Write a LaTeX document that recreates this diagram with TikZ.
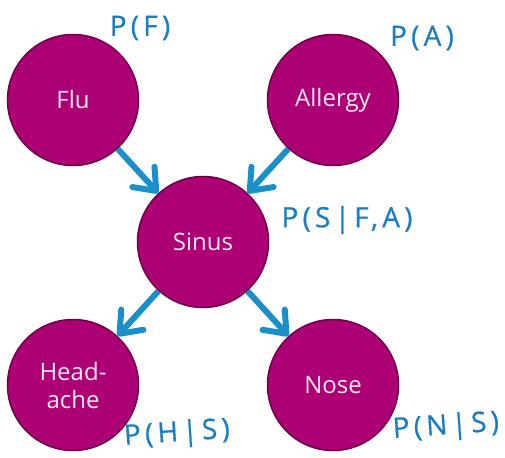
\documentclass[tikz,border=0pt]{standalone}
\usepackage{fontspec}
\setmainfont{Open Sans}
\newfontfamily\handfont{Open Sans}[LetterSpace=15,FakeBold=0.6]
\usetikzlibrary{arrows.meta}
\definecolor{nodefill}{HTML}{AD0075}
\definecolor{nodeedge}{HTML}{6E0047}
\definecolor{nodetext}{HTML}{F8E8F2}
\definecolor{arrowblue}{HTML}{1A8FC9}
\definecolor{inkblue}{HTML}{1B7EC2}
\begin{document}
\begin{tikzpicture}[x=1pt,y=-1pt,
  var/.style={circle,fill=nodefill,draw=nodeedge,line width=1.5pt,
    minimum size=131pt,inner sep=0pt,text=nodetext,
    font=\fontsize{24}{28}\selectfont,align=center},
  edge/.style={draw=arrowblue,line width=6pt,
    -{Straight Barb[length=19pt,width=30pt,round]}},
  prob/.style={text=inkblue,font=\handfont\fontsize{28}{30}\selectfont,inner sep=0pt}]
\useasboundingbox (0,0) rectangle (505,457);

% network nodes
\node[var] (flu) at (73,100) {Flu};
\node[var] (allergy) at (333,100) {Allergy};
\node[var] (sinus) at (203,242) {Sinus};
\node[var] (headache) at (73,385) {Head-\\ache};
\node[var] (nose) at (333,385) {Nose};

% directed dependencies
\draw[edge] (flu) -- (sinus);
\draw[edge] (allergy) -- (sinus);
\draw[edge] (sinus) -- (headache);
\draw[edge] (sinus) -- (nose);

% probability tables attached to each variable
\node[prob] (pf) at (140,28) {P(F)};
\node[prob] (pa) at (422,38) {P(A)};
\node[prob] (psfa) at (347,220) {P(S|F,A)};
\node[prob,rotate=4] (phs) at (177,434) {P(H|S)};
\node[prob,rotate=4] (pns) at (446,427) {P(N|S)};
\end{tikzpicture}
\end{document}
